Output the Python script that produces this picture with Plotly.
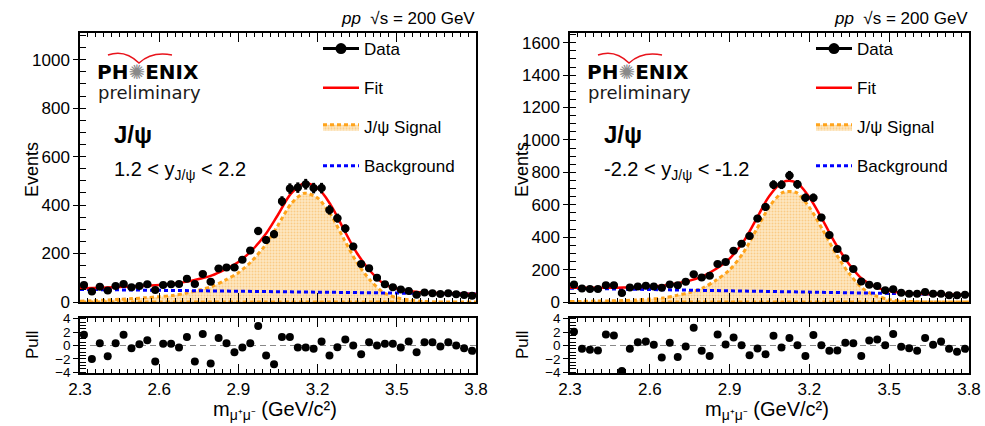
import plotly.graph_objects as go

# ---------------- data ----------------
mass = [2.315, 2.345, 2.375, 2.405, 2.435, 2.465, 2.495, 2.525, 2.555, 2.585,
        2.615, 2.645, 2.675, 2.705, 2.735, 2.765, 2.795, 2.825, 2.855, 2.885,
        2.915, 2.945, 2.975, 3.005, 3.035, 3.065, 3.095, 3.125, 3.155, 3.185,
        3.215, 3.245, 3.275, 3.305, 3.335, 3.365, 3.395, 3.425, 3.455, 3.485,
        3.515, 3.545, 3.575, 3.605, 3.635, 3.665, 3.695, 3.725, 3.755, 3.785]

counts_fwd = [70, 43, 63, 47, 66, 74, 61, 66, 73, 50, 70, 73, 74, 96, 74, 116, 84, 138, 142, 142,
              174, 212, 293, 256, 280, 416, 468, 472, 486, 470, 470, 380, 346, 303, 229, 157, 139, 100, 73, 61,
              52, 45, 30, 39, 36, 33, 36, 32, 29, 26]
pull_fwd = [1.6, -2.0, 0.35, -1.6, 0.35, 1.6, -0.4, 0.2, 0.8, -2.4, 0.25, 0.25, -0.3, 1.25, -2.4, 1.7, -2.7, 1.1, 0.35, -1.0,
            -0.3, 0.35, 2.9, -1.5, -2.8, 1.25, 1.25, -0.3, -0.3, -0.5, 0.6, -1.5, -0.25, 0.9, 0.0, -1.3, 0.5, 0.0, 0.25, 0.25,
            -0.3, 0.6, -1.0, 0.5, 0.5, -0.15, 0.5, 0.0, -0.4, -0.8]

counts_bwd = [108, 84, 80, 80, 104, 104, 55, 90, 96, 100, 96, 88, 108, 104, 125, 172, 151, 162, 235, 247,
              317, 360, 407, 515, 587, 724, 724, 781, 726, 644, 644, 521, 413, 327, 270, 204, 127, 106, 98, 72,
              78, 57, 51, 51, 61, 51, 51, 41, 41, 45]
pull_bwd = [2.05, -0.5, -0.65, -0.75, 1.65, 1.5, -3.8, -0.5, 0.5, 0.6, 0.1, -1.8, 0.4, -1.7, -0.15, 2.65, -0.8, -1.55, 1.65, 0.15,
            1.2, 0.05, -1.45, -0.45, -1.3, 1.45, -0.3, 1.1, 0.05, -1.55, 1.55, 0.05, -0.8, -0.75, 0.4, 0.35, -1.55, 0.75, 0.9, 0.05,
            1.7, -0.2, -0.4, -0.8, 1.1, 0.1, 0.6, -0.5, -0.95, -0.5]

curve_mass = [2.30, 2.35, 2.40, 2.45, 2.50, 2.55, 2.60, 2.65, 2.70, 2.75, 2.80, 2.85, 2.90, 2.95, 3.00, 3.05,
              3.10, 3.15, 3.20, 3.25, 3.30, 3.35, 3.40, 3.45, 3.50, 3.55, 3.60, 3.65, 3.70, 3.75, 3.80]

fit_fwd = [57, 58, 60, 62, 64, 67, 70, 75, 83, 95, 110, 135, 165, 212, 275, 360,
           448, 490, 470, 400, 298, 200, 127, 76, 55, 44, 39, 37, 35, 34, 33]
sig_fwd = [3, 5, 8, 11, 14, 18, 22, 27, 36, 49, 64, 90, 121, 168, 232, 317,
           406, 449, 429, 360, 259, 161, 89, 39, 18, 8, 2, 0.5, 0.2, 0.1, 0]
bkg_fwd = [52, 51.4, 50.7, 50.1, 49.5, 48.8, 48.2, 47.6, 46.9, 46.3, 45.7, 45, 44.4, 43.8, 43.1, 42.5,
           41.9, 41.2, 40.6, 40, 39.3, 38.7, 38.1, 37.4, 36.8, 36.2, 35.5, 34.9, 34.3, 33.6, 33]

fit_bwd = [88, 88, 88, 88, 89, 91, 95, 100, 115, 132, 160, 205, 268, 368, 510, 655,
           740, 738, 645, 505, 355, 232, 140, 92, 68, 57, 52, 49, 47, 46, 45]
sig_bwd = [3, 4, 6, 7, 9, 13, 18, 24, 41, 59, 88, 135, 199, 300, 444, 590,
           676, 676, 584, 445, 297, 175, 84, 38, 15, 5, 2, 0, 0, 0, 0]
bkg_bwd = [85, 83.7, 82.3, 81, 79.7, 78.3, 77, 75.7, 74.3, 73, 71.7, 70.3, 69, 67.7, 66.3, 65,
           63.7, 62.3, 61, 59.7, 58.3, 57, 55.7, 54.3, 53, 51.7, 50.3, 49, 47.7, 46.3, 45]

x_ticks = [2.3, 2.6, 2.9, 3.2, 3.5, 3.8]
rap_labels = ["1.2 < y<sub>J/ψ</sub> < 2.2", "-2.2 < y<sub>J/ψ</sub> < -1.2"]
legend_labels = ["Data", "Fit", "J/ψ Signal", "Background"]

# ---------------- layout geometry (pixels) ----------------
W, H = 985, 426
FONT = "Liberation Sans, Arial, sans-serif"
ORANGE = "#ffa41c"


def px(x):
    return x / W


def py(y):
    return 1 - y / H


panels = [
    dict(x0=80, x1=476, counts=counts_fwd, pull=pull_fwd, fit=fit_fwd, sig=sig_fwd, bkg=bkg_fwd,
         rap=rap_labels[0], ax=("x", "y"), pax=("x2", "y2"), legend="legend"),
    dict(x0=570, x1=969, counts=counts_bwd, pull=pull_bwd, fit=fit_bwd, sig=sig_bwd, bkg=bkg_bwd,
         rap=rap_labels[1], ax=("x3", "y3"), pax=("x4", "y4"), legend="legend2"),
]
TOP_Y0, TOP_Y1 = 33, 302
PULL_Y0, PULL_Y1 = 318, 373

fig = go.Figure()
annotations = []
shapes = []


def ann(text, x, y, size, xanchor="left", family=FONT, color="black", angle=0):
    return dict(text=text, x=px(x), y=py(y), xref="paper", yref="paper", xanchor=xanchor, yanchor="middle",
                showarrow=False, textangle=angle, font=dict(size=size, family=family, color=color))


for k, p in enumerate(panels):
    xa, ya = p["ax"]
    pxa, pya = p["pax"]
    lg = p["legend"]
    n = len(curve_mass)
    # signal (closed polygon down to zero)
    fig.add_trace(go.Scatter(
        x=curve_mass + curve_mass[::-1], y=p["sig"] + [0] * n,
        mode="lines", fill="toself", line=dict(color=ORANGE, width=3, dash="4px,3px", shape="spline", smoothing=0.8),
        fillcolor="#fde3b6",
        fillpattern=dict(shape=".", fgcolor="#f8b04a", bgcolor="#fde7c2", size=3, solidity=0.35),
        name=legend_labels[2], legend=lg, legendgroup=f"c{k}", legendrank=3,
        xaxis=xa, yaxis=ya, hoverinfo="skip"))
    # background
    fig.add_trace(go.Scatter(
        x=curve_mass, y=p["bkg"], mode="lines",
        line=dict(color="#0000ff", width=3, dash="4px,3px"),
        name=legend_labels[3], legend=lg, legendgroup=f"d{k}", legendrank=4,
        xaxis=xa, yaxis=ya))
    # fit
    fig.add_trace(go.Scatter(
        x=curve_mass, y=p["fit"], mode="lines",
        line=dict(color="#ff0000", width=2.5, shape="spline", smoothing=1.0),
        name=legend_labels[1], legend=lg, legendgroup=f"b{k}", legendrank=2,
        xaxis=xa, yaxis=ya))
    # data
    fig.add_trace(go.Scatter(
        x=mass, y=p["counts"], mode="markers",
        marker=dict(color="black", size=8),
        error_y=dict(type="sqrt", color="black", thickness=3, width=0),
        error_x=dict(type="constant", value=0.015, color="black", thickness=3, width=0),
        showlegend=False, xaxis=xa, yaxis=ya))
    # legend entry for data
    fig.add_trace(go.Scatter(
        x=[None], y=[None], mode="lines+markers",
        line=dict(color="black", width=3), marker=dict(color="black", size=11),
        name=legend_labels[0], legend=lg, legendgroup=f"a{k}", legendrank=1,
        xaxis=xa, yaxis=ya))
    # pulls
    fig.add_trace(go.Scatter(
        x=mass, y=p["pull"], mode="markers", marker=dict(color="black", size=8),
        showlegend=False, xaxis=pxa, yaxis=pya))

    shapes.append(dict(type="line", xref=f"{pxa} domain", yref=pya, x0=0, x1=1, y0=0, y1=0,
                       line=dict(color="#888888", width=1.2, dash="6px,4px"), layer="below"))

    x0, x1 = p["x0"], p["x1"]
    annotations += [
        ann("<i>pp</i>  √s = 200 GeV", x1 + 1, 19, 17, xanchor="right"),
        ann("<b>PH<span style='color:#8a8a8a'>✺</span>ENIX</b>", x0 + 15, 72, 20, family="DejaVu Sans"),
        ann("preliminary", x0 + 16, 92, 18, family="DejaVu Sans", color="#1a1a1a"),
        ann("<b>J/ψ</b>", x0 + 32, 134, 24),
        ann(p["rap"], x0 + 32, 170, 20),
        ann("Events", x0 - 48, 170, 18, xanchor="center", angle=-90),
        ann("Pull", x0 - 48, 345, 17, xanchor="center", angle=-90),
        ann("m<sub>μ⁺μ⁻</sub> (GeV/c²)", (x0 + x1) / 2 - 3, 410, 20, xanchor="center"),
    ]
    # PHENIX red swoosh
    sx = x0 + 16
    pts = [(sx + 12, 55), (sx + 29, 49), (sx + 43, 63), (sx + 56, 51), (sx + 76, 55)]
    path = "M {:.4f},{:.4f} Q {:.4f},{:.4f} {:.4f},{:.4f} Q {:.4f},{:.4f} {:.4f},{:.4f}".format(
        px(pts[0][0]), py(pts[0][1]), px(pts[1][0]), py(pts[1][1]), px(pts[2][0]), py(pts[2][1]),
        px(pts[3][0]), py(pts[3][1]), px(pts[4][0]), py(pts[4][1]))
    shapes.append(dict(type="path", xref="paper", yref="paper", path=path, line=dict(color="#e8141c", width=1.5)))


def xaxis_cfg(x0, x1, yanchor, labels):
    return dict(domain=[px(x0), px(x1)], range=[2.3, 3.8], anchor=yanchor,
                tickmode="array", tickvals=x_ticks, ticktext=[f"{v:.1f}" for v in x_ticks],
                showticklabels=labels, ticks="inside", ticklen=9, tickwidth=1, tickcolor="black",
                minor=dict(ticks="inside", dtick=0.03, tick0=2.3, ticklen=4, tickcolor="black"),
                showline=True, linecolor="black", linewidth=1.5, mirror="ticks", automargin=False,
                showgrid=False, zeroline=False, tickfont=dict(size=17, family=FONT, color="black"))


def yaxis_cfg(y0, y1, xanchor, rng, dtick, mdtick, size):
    return dict(domain=[py(y1), py(y0)], range=rng, anchor=xanchor, dtick=dtick, tick0=0,
                ticks="outside", ticklen=5, tickwidth=1, tickcolor="black",
                minor=dict(ticks="inside", dtick=mdtick, tick0=0, ticklen=6, tickcolor="black"),
                showline=True, linecolor="black", linewidth=1.5, mirror=True, automargin=False,
                showgrid=False, zeroline=False, tickfont=dict(size=size, family=FONT, color="black"))


legend_common = dict(yanchor="top", xanchor="left", bgcolor="rgba(0,0,0,0)",
                     font=dict(size=17, family=FONT, color="black"), tracegroupgap=14,
                     itemwidth=36, traceorder="grouped", borderwidth=0)

fig.update_layout(
    width=W, height=H, margin=dict(l=0, r=0, t=0, b=0, pad=0, autoexpand=False),
    paper_bgcolor="white", plot_bgcolor="white",
    xaxis=xaxis_cfg(80, 476, "y", False),
    yaxis=yaxis_cfg(TOP_Y0, TOP_Y1, "x", [0, 1110], 200, 50, 17),
    xaxis2=xaxis_cfg(80, 476, "y2", True),
    yaxis2=yaxis_cfg(PULL_Y0, PULL_Y1, "x2", [-4.1, 4.1], 2, 0.5, 13.5),
    xaxis3=xaxis_cfg(570, 969, "y3", False),
    yaxis3=yaxis_cfg(TOP_Y0, TOP_Y1, "x3", [0, 1660], 200, 50, 17),
    xaxis4=xaxis_cfg(570, 969, "y4", True),
    yaxis4=yaxis_cfg(PULL_Y0, PULL_Y1, "x4", [-4.1, 4.1], 2, 0.5, 13.5),
    legend=dict(x=px(318), y=py(31), **legend_common),
    legend2=dict(x=px(811), y=py(31), **legend_common),
    annotations=annotations, shapes=shapes,
    showlegend=True,
)

fig.write_html("out.html")
